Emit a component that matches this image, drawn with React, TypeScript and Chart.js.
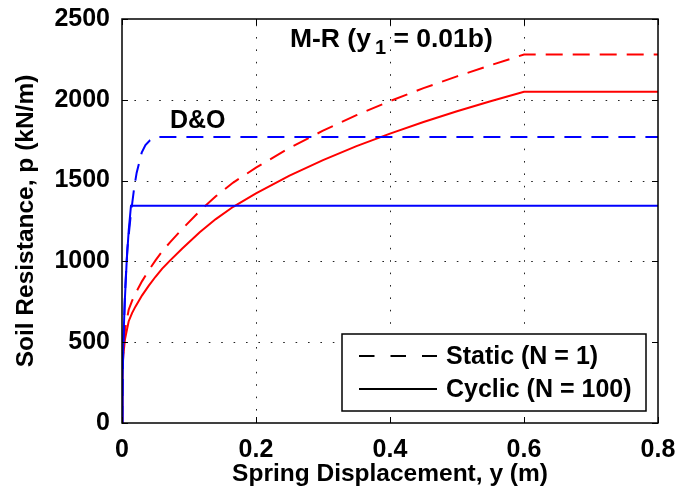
import React, { useEffect, useRef } from 'react';
import { Chart, registerables } from 'chart.js';

Chart.register(...registerables);

// ---- Axis ticks ----
const xTicks = [0, 0.2, 0.4, 0.6, 0.8];
const xTickLabels = ['0', '0.2', '0.4', '0.6', '0.8'];
const yTicks = [0, 500, 1000, 1500, 2000, 2500];
const yTickLabels = ['0', '500', '1000', '1500', '2000', '2500'];

// ---- M-R curves (y1 = 0.01b) ----
const mrY = [0, 0.0005, 0.001, 0.002, 0.0045, 0.01, 0.015, 0.02, 0.03, 0.04, 0.05, 0.06, 0.0716, 0.09, 0.116, 0.14, 0.166, 0.2, 0.25, 0.3, 0.35, 0.4, 0.45, 0.5, 0.55, 0.6, 0.8];
const mrCyclicP = [0, 260, 340, 420, 520, 630, 680, 720, 790, 850, 905, 955, 1005, 1080, 1180, 1262, 1338, 1421, 1531, 1627, 1713, 1791, 1863, 1929, 1991, 2050, 2050];
const mrStaticP = [0, 289, 378, 467, 578, 701, 756, 801, 878, 945, 1006, 1062, 1118, 1201, 1312, 1403, 1488, 1580, 1702, 1809, 1905, 1992, 2072, 2145, 2214, 2280, 2280];

// ---- D&O curves ----
const doStaticY = [0, 0.002, 0.005, 0.008, 0.0134, 0.0184, 0.0219, 0.0294, 0.035, 0.0418, 0.049, 0.06, 0.8];
const doStaticP = [0, 500, 850, 1080, 1300, 1462, 1549, 1673, 1720, 1750, 1768, 1770, 1770];
const doCyclicY = [0, 0.001, 0.002, 0.004, 0.007, 0.01, 0.0134, 0.8];
const doCyclicP = [0, 280, 500, 740, 1000, 1190, 1345, 1345];

// ---- Text ----
const xTitle = 'Spring Displacement, y (m)';
const yTitle = 'Soil Resistance, p (kN/m)';
const legendLabels = ['Static (N = 1)', 'Cyclic (N = 100)'];
const legendDashes = [[15.5, 16], []];
const mrLabelParts = ['M-R (y', '1', ' = 0.01b)'];
const mrLabelAt = [0.2507, 2327];
const doLabel = 'D&O';
const doLabelAt = [0.0716, 1825];

const FAMILY = 'Liberation Sans, Arial, Helvetica, sans-serif';
const FS = 25;

const pts = (xs: number[], ys: number[]) => xs.map((x, i) => ({ x, y: ys[i] }));

const matlabPlugin = {
  id: 'matlabDecor',
  beforeDatasetsDraw(chart: any) {
    const { ctx, chartArea: a, scales } = chart;
    const sx = scales.x, sy = scales.y;
    ctx.save();
    ctx.strokeStyle = '#222';
    ctx.lineWidth = 1;
    ctx.setLineDash([1.6, 10.8]);
    xTicks.forEach((v, i) => {
      if (i === 0 || i === xTicks.length - 1) return;
      const px = Math.round(sx.getPixelForValue(v)) + 0.5;
      ctx.beginPath();
      ctx.moveTo(px, a.bottom);
      ctx.lineTo(px, a.top);
      ctx.stroke();
    });
    yTicks.forEach((v, i) => {
      if (i === 0 || i === yTicks.length - 1) return;
      const py = Math.round(sy.getPixelForValue(v)) + 0.5;
      ctx.beginPath();
      ctx.moveTo(a.left, py);
      ctx.lineTo(a.right, py);
      ctx.stroke();
    });
    ctx.restore();
  },
  afterDatasetsDraw(chart: any) {
    const { ctx, chartArea: a, scales } = chart;
    const sx = scales.x, sy = scales.y;
    ctx.save();
    ctx.setLineDash([]);
    // inward tick marks on all sides
    ctx.strokeStyle = '#000';
    ctx.lineWidth = 1;
    const tl = 6;
    xTicks.forEach((v) => {
      const px = Math.round(sx.getPixelForValue(v)) + 0.5;
      ctx.beginPath();
      ctx.moveTo(px, a.bottom);
      ctx.lineTo(px, a.bottom - tl);
      ctx.moveTo(px, a.top);
      ctx.lineTo(px, a.top + tl);
      ctx.stroke();
    });
    yTicks.forEach((v) => {
      const py = Math.round(sy.getPixelForValue(v)) + 0.5;
      ctx.beginPath();
      ctx.moveTo(a.left, py);
      ctx.lineTo(a.left + tl, py);
      ctx.moveTo(a.right, py);
      ctx.lineTo(a.right - tl, py);
      ctx.stroke();
    });
    // axes box
    ctx.lineWidth = 1.5;
    ctx.strokeRect(a.left, a.top, a.right - a.left, a.bottom - a.top);

    // annotations
    ctx.fillStyle = '#000';
    ctx.textBaseline = 'alphabetic';
    ctx.textAlign = 'left';
    ctx.font = `bold ${FS}px ${FAMILY}`;
    ctx.fillText(doLabel, sx.getPixelForValue(doLabelAt[0]), sy.getPixelForValue(doLabelAt[1]));

    let mx = sx.getPixelForValue(mrLabelAt[0]);
    const my = sy.getPixelForValue(mrLabelAt[1]);
    ctx.font = `bold 26.5px ${FAMILY}`;
    ctx.fillText(mrLabelParts[0], mx, my);
    mx += ctx.measureText(mrLabelParts[0]).width + 4;
    ctx.font = `bold 20px ${FAMILY}`;
    ctx.fillText(mrLabelParts[1], mx, my + 7);
    mx += ctx.measureText(mrLabelParts[1]).width;
    ctx.font = `bold 26.5px ${FAMILY}`;
    ctx.fillText(mrLabelParts[2], mx, my);

    // legend box
    const bw = 304, bh = 77;
    const bx = a.right - 12 - bw;
    const by = a.bottom - 12 - bh;
    ctx.fillStyle = '#fff';
    ctx.fillRect(bx, by, bw, bh);
    ctx.strokeStyle = '#000';
    ctx.lineWidth = 1.5;
    ctx.strokeRect(bx, by, bw, bh);
    const rows = [by + 22, by + 55];
    legendLabels.forEach((lab, i) => {
      ctx.setLineDash(legendDashes[i]);
      ctx.lineWidth = 2;
      ctx.beginPath();
      ctx.moveTo(bx + 17, rows[i]);
      ctx.lineTo(bx + 95, rows[i]);
      ctx.stroke();
      ctx.setLineDash([]);
      ctx.fillStyle = '#000';
      ctx.font = `bold ${FS}px ${FAMILY}`;
      ctx.textBaseline = 'middle';
      ctx.fillText(lab, bx + 104, rows[i] + 1);
    });
    ctx.restore();
  },
};

export default function App() {
  const ref = useRef<HTMLCanvasElement | null>(null);

  useEffect(() => {
    document.body.style.margin = '0';
    const canvas = ref.current;
    if (!canvas) return;
    const chart = new Chart(canvas, {
      type: 'line',
      data: {
        datasets: [
          {
            label: 'D&O static',
            data: pts(doStaticY, doStaticP),
            borderColor: '#0000ff',
            borderWidth: 2,
            borderDash: [17, 10],
            pointRadius: 0,
            fill: false,
            tension: 0,
          },
          {
            label: 'D&O cyclic',
            data: pts(doCyclicY, doCyclicP),
            borderColor: '#0000ff',
            borderWidth: 2,
            pointRadius: 0,
            fill: false,
            tension: 0,
          },
          {
            label: 'M-R static',
            data: pts(mrY, mrStaticP),
            borderColor: '#ff0000',
            borderWidth: 2,
            borderDash: [17, 10],
            pointRadius: 0,
            fill: false,
            tension: 0,
          },
          {
            label: 'M-R cyclic',
            data: pts(mrY, mrCyclicP),
            borderColor: '#ff0000',
            borderWidth: 2,
            pointRadius: 0,
            fill: false,
            tension: 0,
          },
        ],
      },
      options: {
        animation: false,
        responsive: false,
        devicePixelRatio: 1,
        events: [],
        layout: { padding: { top: 19, right: 33, bottom: 0, left: 0 } },
        plugins: {
          legend: { display: false },
          tooltip: { enabled: false },
        },
        scales: {
          x: {
            type: 'linear',
            min: 0,
            max: 0.8,
            afterBuildTicks: (s: any) => {
              s.ticks = xTicks.map((v) => ({ value: v }));
            },
            afterFit: (s: any) => {
              s.height = 69;
              s.paddingLeft = 0;
              s.paddingRight = 0;
            },
            ticks: {
              padding: 12,
              color: '#000',
              font: { family: FAMILY, size: FS, weight: 'bold' },
              maxRotation: 0,
              callback: (v: any) => {
                const i = xTicks.findIndex((t) => Math.abs(t - Number(v)) < 1e-9);
                return i >= 0 ? xTickLabels[i] : '';
              },
            },
            grid: { display: false, drawTicks: false },
            border: { display: false },
            title: {
              display: true,
              text: xTitle,
              color: '#000',
              font: { family: FAMILY, size: 24.5, weight: 'bold' },
              padding: { top: 0, bottom: 3.5 },
            },
          },
          y: {
            type: 'linear',
            min: 0,
            max: 2500,
            afterBuildTicks: (s: any) => {
              s.ticks = yTicks.map((v) => ({ value: v }));
            },
            afterFit: (s: any) => {
              s.width = 122;
              s.paddingTop = 0;
              s.paddingBottom = 0;
            },
            ticks: {
              padding: 12,
              color: '#000',
              font: { family: FAMILY, size: FS, weight: 'bold' },
              callback: (v: any) => {
                const i = yTicks.indexOf(Number(v));
                return i >= 0 ? yTickLabels[i] : '';
              },
            },
            grid: { display: false, drawTicks: false },
            border: { display: false },
            title: {
              display: true,
              text: yTitle,
              color: '#000',
              font: { family: FAMILY, size: 24.5, weight: 'bold' },
              padding: { top: 12, bottom: 0 },
            },
          },
        },
      },
      plugins: [matlabPlugin],
    } as any);
    return () => chart.destroy();
  }, []);

  return (
    <div style={{ position: 'absolute', left: 0, top: 0, width: 691, height: 492, background: '#fff' }}>
      <canvas ref={ref} width={691} height={492} />
    </div>
  );
}
